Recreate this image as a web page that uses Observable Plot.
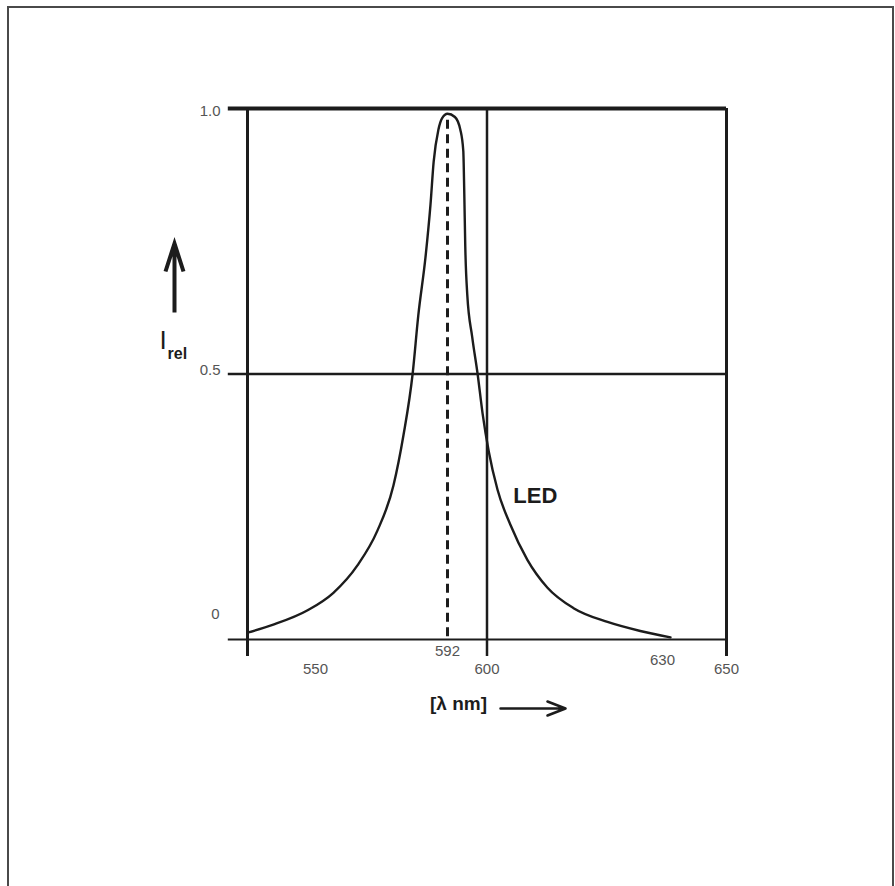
<!DOCTYPE html>
<html><head><meta charset="utf-8">
<script src="https://cdn.jsdelivr.net/npm/d3@7"></script>
<script src="https://cdn.jsdelivr.net/npm/@observablehq/plot@0.6"></script>
<style>
html,body{margin:0;padding:0;background:#fff;overflow:hidden;width:895px;height:886px;}
#border{position:absolute;left:7px;top:6px;width:887px;height:900px;border:2px solid #4a4a4a;box-sizing:border-box;}
#chart{position:absolute;left:0;top:0;}
</style></head><body>
<div id="border"></div><div id="chart"></div>
<script>
// Spectral curve of the LED (wavelength in nm, relative intensity)
const wavelength = [528.4, 536.6, 547.5, 555.7, 563.4, 569.7, 574.8, 578.0, 580.9, 582.7, 585.0, 586.6, 587.6, 589.1, 590.3, 592.0,
  593.5, 594.6, 595.2, 595.4, 595.6, 596.0, 597.0, 598.1, 599.1, 600.3, 601.8, 604.0, 606.9, 610.3, 614.8, 620.6, 626.2, 632.5];
const intensity = [0.013, 0.028, 0.055, 0.088, 0.14, 0.205, 0.29, 0.385, 0.50, 0.61, 0.72, 0.82, 0.90, 0.96, 0.982, 0.99,
  0.984, 0.96, 0.92, 0.84, 0.74, 0.65, 0.57, 0.50, 0.426, 0.354, 0.282, 0.216, 0.15, 0.098, 0.059, 0.033, 0.016, 0.004];

const yTicks = [1.0, 0.5, 0];
const yTickLabels = ["1.0", "0.5", "0"];
const xTicks = [550, 592, 600, 630, 650];
const xTickLabels = ["550", "592", "600", "630", "650"];
const xAxisMin = 528.4;      // left edge of the diagram (nm)
const xGridStart = 522.3;    // horizontal lines overshoot the left edge
const gridX = [600, 650];
const gridY = [0.5, 1.0];
const peakWavelength = 592;
const peakIntensity = 0.987;
const annotations = [{label: "LED", x: 604.5, y: 0.271}];
const xLabel = "[λ nm]";
const yLabel = "I";
const yLabelSub = "rel";

const curve = wavelength.map((w, i) => ({w, v: intensity[i]}));
const yt = yTicks.map((v, i) => ({v, label: yTickLabels[i]}));
const xt = xTicks.map((v, i) => ({v, label: xTickLabels[i]}));

const upArrow = {draw(c, l) { c.moveTo(0, 0); c.lineTo(0, -l + 2); c.moveTo(-9, -l + 28); c.lineTo(0, -l); c.lineTo(9, -l + 28); }};
const rightArrow = {draw(c, l) { c.moveTo(0, 0); c.lineTo(0, -l); c.moveTo(-7, -l + 18); c.lineTo(0, -l); c.lineTo(7, -l + 18); }};

const ink = "#1c1c1c";
const tickFont = {fontSize: 15, fill: "#555"};

const chart = Plot.plot({
  width: 895, height: 886,
  marginLeft: 247, marginRight: 169, marginTop: 108, marginBottom: 247,
  style: {fontFamily: "'Liberation Sans', Arial, sans-serif", background: "transparent", overflow: "visible"},
  x: {type: "linear", domain: [xAxisMin, 550, 592, 600, 630, 650], range: [247, 315, 447, 486.5, 662, 726], axis: null},
  y: {domain: [0, 1], axis: null},
  marks: [
    // horizontal lines
    Plot.ruleY([gridY[1]], {x1: xGridStart, x2: 650, stroke: ink, strokeWidth: 4}),
    Plot.ruleY([gridY[0]], {x1: xGridStart, x2: 650, stroke: ink, strokeWidth: 2.5}),
    Plot.ruleY([0], {x1: xGridStart, x2: 650, stroke: ink, strokeWidth: 2}),
    // vertical lines
    Plot.ruleX([xAxisMin], {y1: -0.032, y2: 1, stroke: ink, strokeWidth: 3}),
    Plot.ruleX([gridX[0]], {y1: -0.032, y2: 1, stroke: ink, strokeWidth: 2.5}),
    Plot.ruleX([gridX[1]], {y1: -0.032, y2: 1, stroke: ink, strokeWidth: 3}),
    // peak marker
    Plot.ruleX([peakWavelength], {y1: 0.005, y2: peakIntensity, stroke: ink, strokeWidth: 3, strokeDasharray: "9,5.5"}),
    // spectrum
    Plot.line(curve, {x: "w", y: "v", stroke: ink, strokeWidth: 2.4, curve: "monotone-x"}),
    // y tick labels
    Plot.text(yt.slice(0, 1), {y: "v", text: "label", frameAnchor: "left", dx: -27, dy: 3, textAnchor: "end", ...tickFont}),
    Plot.text(yt.slice(1, 2), {y: "v", text: "label", frameAnchor: "left", dx: -27, dy: -4, textAnchor: "end", ...tickFont}),
    Plot.text(yt.slice(2, 3), {y: "v", text: "label", frameAnchor: "left", dx: -28, dy: -25, textAnchor: "end", ...tickFont}),
    // x tick labels
    Plot.text(xt.filter(d => d.v === 550 || d.v === 600 || d.v === 650), {x: "v", text: "label", frameAnchor: "bottom", dy: 34, ...tickFont}),
    Plot.text(xt.filter(d => d.v === 592), {x: "v", text: "label", frameAnchor: "bottom", dy: 16, ...tickFont}),
    Plot.text(xt.filter(d => d.v === 630), {x: "v", text: "label", frameAnchor: "bottom", dy: 25, ...tickFont}),
    // curve label
    Plot.text(annotations, {x: "x", y: "y", text: "label", textAnchor: "start", fontSize: 22, fontWeight: "bold", fill: ink}),
    // y axis label with arrow
    Plot.vector([0], {frameAnchor: "left", dx: -73, dy: -61.5, length: 69, rotate: 0, anchor: "start", shape: upArrow, stroke: ink, strokeWidth: 4, strokeLinejoin: "miter", strokeLinecap: "butt"}),
    Plot.text([yLabel], {text: d => d, frameAnchor: "left", dx: -88, dy: -33, fontSize: 26, fill: ink}),
    Plot.text([yLabelSub], {text: d => d, frameAnchor: "left", dx: -80, dy: -20, textAnchor: "start", fontSize: 16, fontWeight: "bold", fill: ink}),
    // x axis label with arrow
    Plot.text([xLabel], {text: d => d, frameAnchor: "bottom", dx: -28.5, dy: 70, fontSize: 19, fontWeight: "bold", fill: ink}),
    Plot.vector([0], {frameAnchor: "bottom", dx: 13.5, dy: 69, length: 65, rotate: 90, anchor: "start", shape: rightArrow, stroke: ink, strokeWidth: 2.5})
  ]
});
document.getElementById("chart").appendChild(chart);
</script>
</body></html>
